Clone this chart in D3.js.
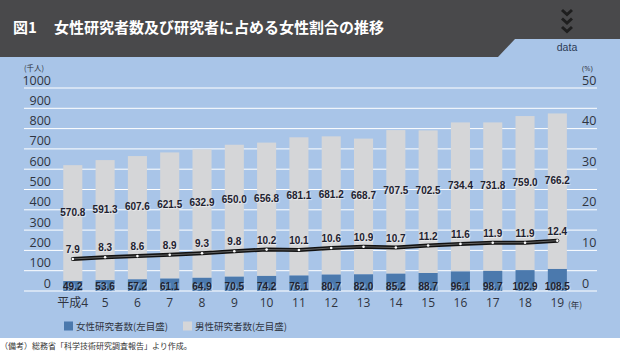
<!DOCTYPE html>
<html>
<head>
<meta charset="utf-8">
<script src="https://cdn.jsdelivr.net/npm/d3@7"></script>
<style>
  body { margin: 0; background: #fff; }
  svg { display: block; }
  .val { font-family: "Liberation Sans", Arial, sans-serif; font-size: 10px; font-weight: bold; fill: #1e2230;
         text-shadow: 1px 1px 1px rgba(255,255,255,0.55); }
</style>
</head>
<body>
<svg id="vis" width="620" height="352"></svg>
<script>
// datos del grafico
const YEARS = ["平成4", "5", "6", "7", "8", "9", "10", "11", "12", "13", "14", "15", "16", "17", "18", "19"];
const FEMALE = [49.2, 53.6, 57.2, 61.1, 64.9, 70.5, 74.2, 76.1, 80.7, 82.0, 85.2, 88.7, 96.1, 98.7, 102.9, 108.5];
const MALE = [570.8, 591.3, 607.6, 621.5, 632.9, 650.0, 656.8, 681.1, 681.2, 668.7, 707.5, 702.5, 734.4, 731.8, 759.0, 766.2];
const RATIO = [7.9, 8.3, 8.6, 8.9, 9.3, 9.8, 10.2, 10.1, 10.6, 10.9, 10.7, 11.2, 11.6, 11.9, 11.9, 12.4];
const LEFT_TICKS = [0, 100, 200, 300, 400, 500, 600, 700, 800, 900, 1000];
const RIGHT_TICKS = [0, 10, 20, 30, 40, 50];

const SVG = d3.select("#vis");
const BG = "#a9c5e8", HEAD = "#49494b", C_F = "#4b79ad", C_M = "#d5d6d8";

// fondo
SVG.append("rect").attr("width", 620).attr("height", 352).attr("fill", BG);
SVG.append("rect").attr("y", 338).attr("width", 620).attr("height", 14).attr("fill", "#fff");

// cabecera
SVG.append("rect").attr("width", 620).attr("height", 57).attr("fill", HEAD);
SVG.append("path").attr("d", "M498,57 L515,39 L620,39 L620,57 Z").attr("fill", BG);
SVG.append("text").attr("x", 567).attr("y", 51).attr("text-anchor", "middle")
  .style("font-family", "'Liberation Sans Narrow','Liberation Sans',sans-serif").style("font-size", "10.5px")
  .attr("fill", "#2b3a55").text("data");
[10, 18.5, 27].forEach(y => {
  SVG.append("path").attr("d", `M562,${y} L567,${y + 4.5} L572,${y}`)
    .attr("fill", "none").attr("stroke", "#1e1e1e").attr("stroke-width", 3);
});
const title = SVG.append("g").attr("fill", "#fff")
  .style("font-family", "'Noto Sans CJK JP',sans-serif").style("font-weight", "bold").style("font-size", "15px");
title.append("text").attr("x", 13).attr("y", 33).text("図1");
title.append("text").attr("x", 54).attr("y", 33).text("女性研究者数及び研究者に占める女性割合の推移");

// escalas
const x = d3.scaleBand().domain(YEARS).range([56.65, 573.5]).paddingInner(0.41).paddingOuter(0.205);
const y = d3.scaleLinear().domain([0, 1000]).range([291, 88]);
const yR = d3.scaleLinear().domain([0, 50]).range([291, 88]);

// lineas de grilla
SVG.append("g").selectAll("line").data(LEFT_TICKS).join("line")
  .attr("x1", 24).attr("x2", 597)
  .attr("y1", d => y(d)).attr("y2", d => y(d))
  .attr("stroke", "#fff").attr("stroke-width", 1);

// ejes (solo etiquetas)
const axisFont = "'Open Sans','Noto Sans',sans-serif";
const yAxis = SVG.append("g").attr("transform", "translate(51,-8)")
  .call(d3.axisLeft(y).tickValues(LEFT_TICKS).tickFormat(d3.format("d")).tickSize(0).tickPadding(0));
const yAxisR = SVG.append("g").attr("transform", "translate(582,-8)")
  .call(d3.axisRight(yR).tickValues(RIGHT_TICKS).tickFormat(d3.format("d")).tickSize(0).tickPadding(0));
[yAxis, yAxisR].forEach(a => {
  a.select(".domain").remove();
  a.selectAll("text").attr("fill", "#2f3440").style("font-family", axisFont).style("font-size", "12.5px");
});
SVG.append("text").attr("x", 24).attr("y", 70.5).attr("fill", "#2f3440")
  .style("font-family", "'Noto Sans CJK JP',sans-serif").style("font-size", "7.5px").text("(千人)");
SVG.append("text").attr("x", 582).attr("y", 70.5).attr("fill", "#2f3440")
  .style("font-family", axisFont).style("font-size", "7.5px").text("(%)");

const xAxis = SVG.append("g").attr("transform", "translate(0,296)")
  .call(d3.axisBottom(x).tickSize(0).tickPadding(0));
xAxis.select(".domain").remove();
xAxis.selectAll("text").attr("fill", "#2f3440").attr("dy", "0.95em")
  .style("font-family", "'Open Sans','Noto Sans CJK JP',sans-serif").style("font-size", "12px");
SVG.append("text").attr("x", 568).attr("y", 307.5).attr("fill", "#2f3440")
  .style("font-family", "'Noto Sans CJK JP',sans-serif").style("font-size", "8.5px").text("(年)");

// barras
const bars = SVG.append("g").selectAll("g").data(YEARS).join("g");
bars.append("rect")
  .attr("x", d => x(d)).attr("width", x.bandwidth())
  .attr("y", (d, i) => y(FEMALE[i] + MALE[i]))
  .attr("height", (d, i) => y(FEMALE[i]) - y(FEMALE[i] + MALE[i]))
  .attr("fill", C_M);
bars.append("rect")
  .attr("x", d => x(d)).attr("width", x.bandwidth())
  .attr("y", (d, i) => y(FEMALE[i]))
  .attr("height", (d, i) => y(0) - y(FEMALE[i]))
  .attr("fill", C_F);

// etiquetas de barras
bars.append("text").attr("class", "val").attr("text-anchor", "middle")
  .attr("x", d => x(d) + x.bandwidth() / 2).attr("y", 289.5)
  .text((d, i) => FEMALE[i].toFixed(1));
bars.append("text").attr("class", "val").attr("text-anchor", "middle")
  .attr("x", d => x(d) + x.bandwidth() / 2)
  .attr("y", (d, i) => y(FEMALE[i] + MALE[i] / 2) - 7.5)
  .text((d, i) => MALE[i].toFixed(1));

// linea de porcentaje
const pts = YEARS.map((d, i) => [x(d) + x.bandwidth() / 2, yR(RATIO[i])]);
const line = d3.line();
SVG.append("path").attr("d", line(pts)).attr("fill", "none")
  .attr("stroke", "#111").attr("stroke-width", 4).attr("stroke-linecap", "round");
SVG.append("path").attr("d", line(pts)).attr("fill", "none")
  .attr("stroke", "#fff").attr("stroke-width", 1).attr("stroke-opacity", 0.35);
SVG.append("g").selectAll("circle").data(pts).join("circle")
  .attr("cx", d => d[0]).attr("cy", d => d[1]).attr("r", 1.3).attr("fill", "#fff");
SVG.append("g").selectAll("text").data(RATIO).join("text").attr("class", "val")
  .attr("text-anchor", "middle")
  .attr("x", (d, i) => pts[i][0]).attr("y", (d, i) => pts[i][1] - 6)
  .text(d => d.toFixed(1));

// leyenda
const legend = [{ label: "女性研究者数(左目盛)", color: C_F, x: 64 }, { label: "男性研究者数(左目盛)", color: C_M, x: 183 }];
const lg = SVG.append("g").selectAll("g").data(legend).join("g")
  .attr("transform", d => `translate(${d.x},321.5)`);
lg.append("rect").attr("width", 9).attr("height", 9).attr("fill", d => d.color);
lg.append("text").attr("x", 12).attr("y", 8.3).attr("fill", "#2f3440")
  .style("font-family", "'Noto Sans CJK JP',sans-serif").style("font-size", "9.5px")
  .text(d => d.label);

// nota
SVG.append("text").attr("x", 0).attr("y", 349).attr("fill", "#333")
  .style("font-family", "'Noto Sans CJK JP',sans-serif").style("font-size", "8px")
  .text("（備考）総務省「科学技術研究調査報告」より作成。");
</script>
</body>
</html>
